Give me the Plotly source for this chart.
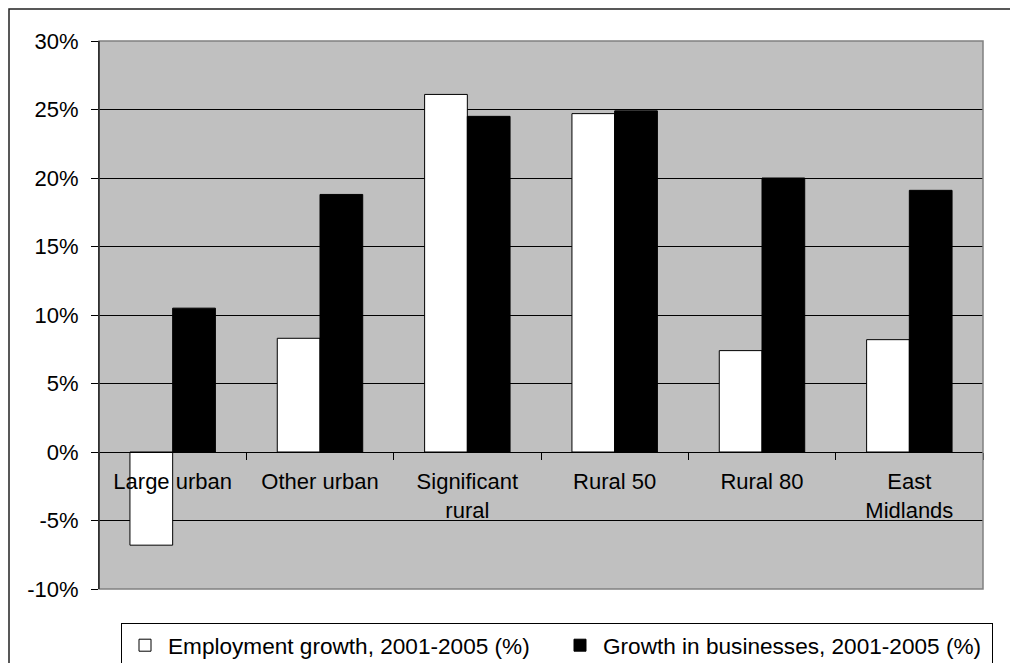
import plotly.graph_objects as go

categories = ["Large urban", "Other urban", "Significant<br>rural", "Rural 50", "Rural 80", "East<br>Midlands"]
employment_growth = [-6.8, 8.3, 26.1, 24.7, 7.4, 8.2]
business_growth = [10.5, 18.8, 24.5, 24.9, 20.0, 19.1]
series_names = ["Employment growth, 2001-2005 (%)", "Growth in businesses, 2001-2005 (%)"]
y_ticks = [-10, -5, 0, 5, 10, 15, 20, 25, 30]
y_tick_labels = ["-10%", "-5%", "0%", "5%", "10%", "15%", "20%", "25%", "30%"]

# page has an 8px body margin: figure origin sits at window (8, 8)
OFF = 8
W, H = 1018 - OFF, 663 - OFF
# plot area in window pixels: x 99..983, y 41..589
L, R, T, B = 99 - OFF, W - (983 - OFF), 41 - OFF, H - (589 - OFF)
pw, ph = W - L - R, H - T - B

def px_x(xw):
    return (xw - OFF - L) / pw

def px_y(yw):
    return (H - B - (yw - OFF)) / ph

FONT = "Liberation Sans, Arial, sans-serif"
FS = 22

fig = go.Figure()
fig.add_trace(go.Bar(
    x=categories, y=employment_growth, name=series_names[0],
    marker=dict(color="#ffffff", line=dict(color="#000000", width=1)),
))
fig.add_trace(go.Bar(
    x=categories, y=business_growth, name=series_names[1],
    marker=dict(color="#000000", line=dict(color="#000000", width=1)),
))

zero_pos = (0 - y_ticks[0]) / (y_ticks[-1] - y_ticks[0])

fig.update_layout(
    width=W, height=H,
    margin=dict(l=L, r=R, t=T, b=B, pad=0, autoexpand=False),
    paper_bgcolor="#ffffff",
    plot_bgcolor="#c0c0c0",
    font=dict(family=FONT, size=FS, color="#000000"),
    barmode="group",
    bargap=0.42,
    bargroupgap=0,
    showlegend=True,
    legend=dict(
        orientation="h",
        x=px_x(121), xanchor="left",
        y=px_y(623), yanchor="top",
        bgcolor="#ffffff",
        bordercolor="#000000", borderwidth=1,
        font=dict(family=FONT, size=22.6, color="#000000"),
        entrywidth=384, entrywidthmode="pixels",
        itemwidth=36,
        traceorder="normal",
    ),
    xaxis=dict(
        type="category",
        anchor="free", position=zero_pos,
        showline=True, linecolor="#000000", linewidth=1,
        ticks="outside", ticklen=7, tickcolor="#000000", tickwidth=1,
        tickson="boundaries",
        showgrid=False, zeroline=False,
        ticklabelstandoff=10,
        automargin=False,
        tickfont=dict(family=FONT, size=FS, color="#000000"),
        fixedrange=True,
    ),
    yaxis=dict(
        range=[y_ticks[0], y_ticks[-1]],
        tickmode="array",
        tickvals=y_ticks,
        ticktext=y_tick_labels,
        showline=True, linecolor="#000000", linewidth=1,
        ticks="outside", ticklen=7, tickcolor="#000000", tickwidth=1,
        showgrid=True, gridcolor="#000000", gridwidth=1,
        zeroline=False,
        ticklabelstandoff=8,
        automargin=False,
        tickfont=dict(family=FONT, size=FS, color="#000000"),
        fixedrange=True,
    ),
    shapes=[
        dict(type="rect", xref="x domain", yref="y domain", x0=0, x1=1, y0=0, y1=1,
             line=dict(color="#808080", width=1.5), fillcolor="rgba(0,0,0,0)", layer="above"),
        dict(type="line", xref="x domain", yref="y domain", x0=0, x1=0, y0=0, y1=1,
             line=dict(color="#000000", width=1), layer="above"),
        dict(type="rect", xref="paper", yref="paper",
             x0=px_x(9), x1=px_x(1040), y0=px_y(690), y1=px_y(9),
             line=dict(color="#222222", width=1.5), fillcolor="rgba(0,0,0,0)", layer="above"),
    ],
)

fig.write_html("out.html")
